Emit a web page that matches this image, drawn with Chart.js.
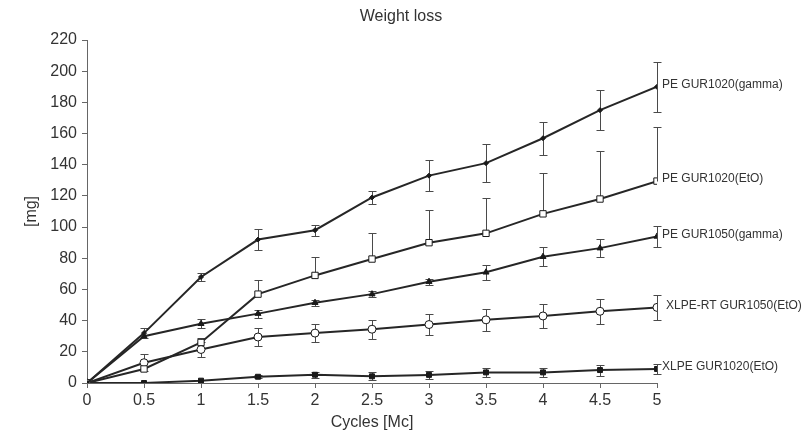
<!DOCTYPE html>
<html>
<head>
<meta charset="utf-8">
<script src="https://cdn.jsdelivr.net/npm/chart.js@4.4.1/dist/chart.umd.min.js"></script>
<style>
  html, body { margin: 0; padding: 0; background: #fff; }
  #wrap { width: 812px; height: 433px; }
</style>
</head>
<body>
<div id="wrap"><canvas id="chart" width="812" height="433"></canvas></div>
<script>
const cycles = [0, 0.5, 1, 1.5, 2, 2.5, 3, 3.5, 4, 4.5, 5];
const seriesNames = ['PE GUR1020(gamma)', 'PE GUR1020(EtO)', 'PE GUR1050(gamma)', 'XLPE-RT GUR1050(EtO)', 'XLPE GUR1020(EtO)'];

const pe1020Gamma = [0, 32, 68, 92, 98, 119, 133, 141, 157, 175, 190];
const pe1020GammaErr = [0, 3, 2.5, 6.5, 3.5, 4, 10, 12, 10.5, 13, 16];
const pe1020Eto = [0, 9, 26, 57, 69, 79.5, 90, 96, 108.5, 118, 129.5];
const pe1020EtoErr = [0, 0, 3, 9, 12, 17, 21, 22.5, 26, 30.5, 35];
const pe1050Gamma = [0, 30, 38, 44.5, 51.5, 57, 65, 71, 81, 86.5, 94];
const pe1050GammaErr = [0, 0, 3, 2.5, 2, 2, 2, 5, 6, 6, 7];
const xlpeRt1050 = [0, 13, 21.5, 29.5, 32, 34.5, 37.5, 40.5, 43, 46, 48.5];
const xlpeRt1050Err = [0, 5.5, 5, 5.5, 6, 6, 6.5, 7, 7.5, 8, 8];
const xlpe1020 = [0, 0, 1.5, 4, 5.3, 4.3, 5.2, 6.8, 6.8, 8.3, 9];
const xlpe1020Err = [0, 0, 0, 1, 2, 2.5, 2.5, 3, 3, 3.5, 3.5];

const yTicks = [0, 20, 40, 60, 80, 100, 120, 140, 160, 180, 200, 220];

const font = 'Liberation Sans, Arial, sans-serif';
const ink = '#333';

function points(values) {
  return values.map((v, i) => ({ x: cycles[i], y: v }));
}

function series(i, values, err, style) {
  return Object.assign({
    label: seriesNames[i],
    data: points(values),
    err: err,
    borderColor: '#262626',
    borderWidth: 2,
    pointBorderColor: '#1a1a1a',
    pointBackgroundColor: '#1a1a1a',
    pointBorderWidth: 1,
    tension: 0,
    labelDx: 5
  }, style);
}

const errorBars = {
  id: 'errorBars',
  beforeDatasetsDraw(chart) {
    const { ctx, scales: { x, y } } = chart;
    ctx.save();
    ctx.strokeStyle = '#4a4a4a';
    ctx.lineWidth = 1;
    chart.data.datasets.forEach(ds => {
      ds.data.forEach((p, i) => {
        const e = ds.err[i];
        if (!e) return;
        const px = Math.round(x.getPixelForValue(p.x)) + 0.5;
        const top = Math.round(y.getPixelForValue(p.y + e)) + 0.5;
        const bot = Math.round(y.getPixelForValue(ds.upOnly ? p.y : p.y - e)) + 0.5;
        ctx.beginPath();
        ctx.moveTo(px, top);
        ctx.lineTo(px, bot);
        ctx.moveTo(px - 4, top);
        ctx.lineTo(px + 4, top);
        if (!ds.upOnly) {
          ctx.moveTo(px - 4, bot);
          ctx.lineTo(px + 4, bot);
        }
        ctx.stroke();
      });
    });
    ctx.restore();
  }
};

const endLabels = {
  id: 'endLabels',
  afterDatasetsDraw(chart) {
    const { ctx, scales: { x, y } } = chart;
    ctx.save();
    ctx.fillStyle = ink;
    ctx.font = '12px ' + font;
    ctx.textAlign = 'left';
    ctx.textBaseline = 'middle';
    chart.data.datasets.forEach(ds => {
      const last = ds.data[ds.data.length - 1];
      ctx.fillText(ds.label, x.getPixelForValue(last.x) + ds.labelDx, y.getPixelForValue(last.y) - 2);
    });
    // title centred over the whole figure
    ctx.font = '16px ' + font;
    ctx.textAlign = 'center';
    ctx.fillText('Weight loss', 401, 17);
    ctx.restore();
  }
};

new Chart(document.getElementById('chart'), {
  type: 'line',
  data: {
    datasets: [
      series(0, pe1020Gamma, pe1020GammaErr, { pointStyle: 'rectRot', pointRadius: 2.5 }),
      series(1, pe1020Eto, pe1020EtoErr, { pointStyle: 'rect', pointRadius: 4.5, pointBackgroundColor: '#fff', upOnly: true }),
      series(2, pe1050Gamma, pe1050GammaErr, { pointStyle: 'triangle', pointRadius: 3.5 }),
      series(3, xlpeRt1050, xlpeRt1050Err, { pointStyle: 'circle', pointRadius: 4, pointBackgroundColor: '#fff', labelDx: 9 }),
      series(4, xlpe1020, xlpe1020Err, { pointStyle: 'rect', pointRadius: 3.5 })
    ]
  },
  options: {
    responsive: false,
    animation: false,
    layout: { padding: { top: 40, right: 155, left: 0, bottom: 0 } },
    plugins: {
      legend: { display: false },
      tooltip: { enabled: false },
      title: { display: false }
    },
    scales: {
      x: {
        type: 'linear',
        min: 0,
        max: 5,
        afterFit(scale) { scale.height = 50; },
        afterBuildTicks(scale) { scale.ticks = cycles.map(v => ({ value: v })); },
        grid: { drawOnChartArea: false, tickLength: 5, color: '#666' },
        border: { color: '#666' },
        ticks: { color: ink, padding: 3, font: { family: font, size: 16 }, callback: v => String(v) },
        title: { display: true, text: 'Cycles [Mc]', color: ink, font: { family: font, size: 16 }, padding: { top: 0, bottom: 1 } }
      },
      y: {
        min: 0,
        max: 220,
        afterFit(scale) { scale.width = 87; },
        afterBuildTicks(scale) { scale.ticks = yTicks.map(v => ({ value: v })); },
        grid: { drawOnChartArea: false, tickLength: 5, color: '#666' },
        border: { color: '#666' },
        ticks: { color: ink, padding: 5, font: { family: font, size: 16 } },
        title: { display: true, text: '[mg]', color: ink, font: { family: font, size: 16 }, padding: { top: 22, bottom: 0 } }
      }
    }
  },
  plugins: [errorBars, endLabels]
});
</script>
</body>
</html>
